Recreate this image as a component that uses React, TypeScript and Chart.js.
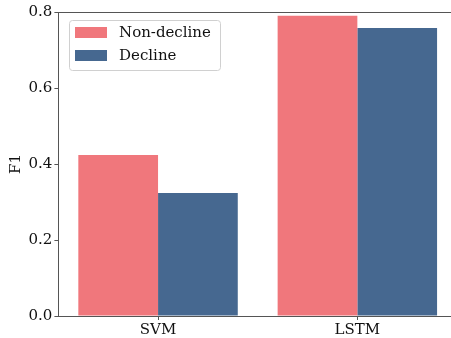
import React, { useEffect, useRef } from "react";
import { Chart, registerables } from "chart.js";

Chart.register(...registerables);

const categories = ["SVM", "LSTM"];
const seriesNames = ["Non-decline", "Decline"];
const nonDecline = [0.424, 0.79];
const decline = [0.324, 0.758];
const yTicks = [0.0, 0.2, 0.4, 0.6, 0.8];
const colors = ["#F0777C", "#466890"];
const FONT = "DejaVu Serif";

const spinePlugin = {
  id: "spines",
  afterDraw(chart: any) {
    const { ctx, chartArea } = chart;
    ctx.save();
    ctx.fillStyle = "#555";
    ctx.fillRect(chartArea.left, chartArea.top, chartArea.right - chartArea.left, 1);
    ctx.restore();
  },
};

const legendPlugin = {
  id: "innerLegend",
  afterDraw(chart: any) {
    const { ctx } = chart;
    const x = 69, y = 20, w = 151, h = 50, r = 3;
    ctx.save();
    ctx.fillStyle = "rgba(255,255,255,0.8)";
    ctx.strokeStyle = "#d0d0d0";
    ctx.lineWidth = 1;
    ctx.beginPath();
    ctx.roundRect(x + 0.5, y + 0.5, w, h, r);
    ctx.fill();
    ctx.stroke();
    ctx.font = `15px "${FONT}"`;
    ctx.textBaseline = "middle";
    ctx.textAlign = "left";
    chart.data.datasets.forEach((ds: any, i: number) => {
      const cy = 32.5 + i * 23;
      ctx.fillStyle = ds.backgroundColor;
      ctx.fillRect(75, cy - 5.5, 32, 11);
      ctx.fillStyle = "#111";
      ctx.fillText(ds.label, 119, cy + 0.5);
    });
    ctx.restore();
  },
};

export default function App() {
  const ref = useRef<HTMLCanvasElement>(null);
  useEffect(() => {
    if (!ref.current) return;
    const chart = new Chart(ref.current, {
      type: "bar",
      data: {
        labels: categories,
        datasets: [
          { label: seriesNames[0], data: nonDecline, backgroundColor: colors[0], borderWidth: 0 },
          { label: seriesNames[1], data: decline, backgroundColor: colors[1], borderWidth: 0 },
        ],
      },
      options: {
        responsive: false,
        animation: false,
        devicePixelRatio: 1,
        layout: { padding: { top: 12, right: 3, left: 0, bottom: 0 } },
        datasets: { bar: { categoryPercentage: 0.8, barPercentage: 1.0 } },
        plugins: { legend: { display: false }, tooltip: { enabled: false } },
        scales: {
          x: {
            afterFit: (s: any) => { s.height = 22; },
            grid: { display: true, drawOnChartArea: false, offset: false, tickLength: 4, color: "#555", tickWidth: 1 },
            border: { display: true, color: "#555", width: 1 },
            ticks: { color: "#111", font: { family: FONT, size: 15 }, padding: 1 },
          },
          y: {
            min: 0,
            max: 0.8,
            afterFit: (s: any) => { s.width = 58.4; },
            afterBuildTicks: (s: any) => { s.ticks = yTicks.map((v) => ({ value: v })); },
            grid: { display: true, drawOnChartArea: false, tickLength: 4, color: "#555", tickWidth: 1 },
            border: { display: true, color: "#555", width: 1 },
            ticks: {
              color: "#111",
              font: { family: FONT, size: 15 },
              padding: 2,
              callback: (v: any) => Number(v).toFixed(1),
            },
            title: {
              display: true,
              text: "F1",
              color: "#111",
              font: { family: FONT, size: 15 },
              padding: { top: 7, bottom: 0 },
            },
          },
        },
      },
      plugins: [spinePlugin, legendPlugin],
    });
    return () => chart.destroy();
  }, []);
  return (
    <div style={{ position: "fixed", left: 0, top: 0, width: 451, height: 338, overflow: "hidden", background: "#fff" }}>
      <canvas ref={ref} width={460} height={338} style={{ display: "block", width: 460, height: 338 }} />
    </div>
  );
}
